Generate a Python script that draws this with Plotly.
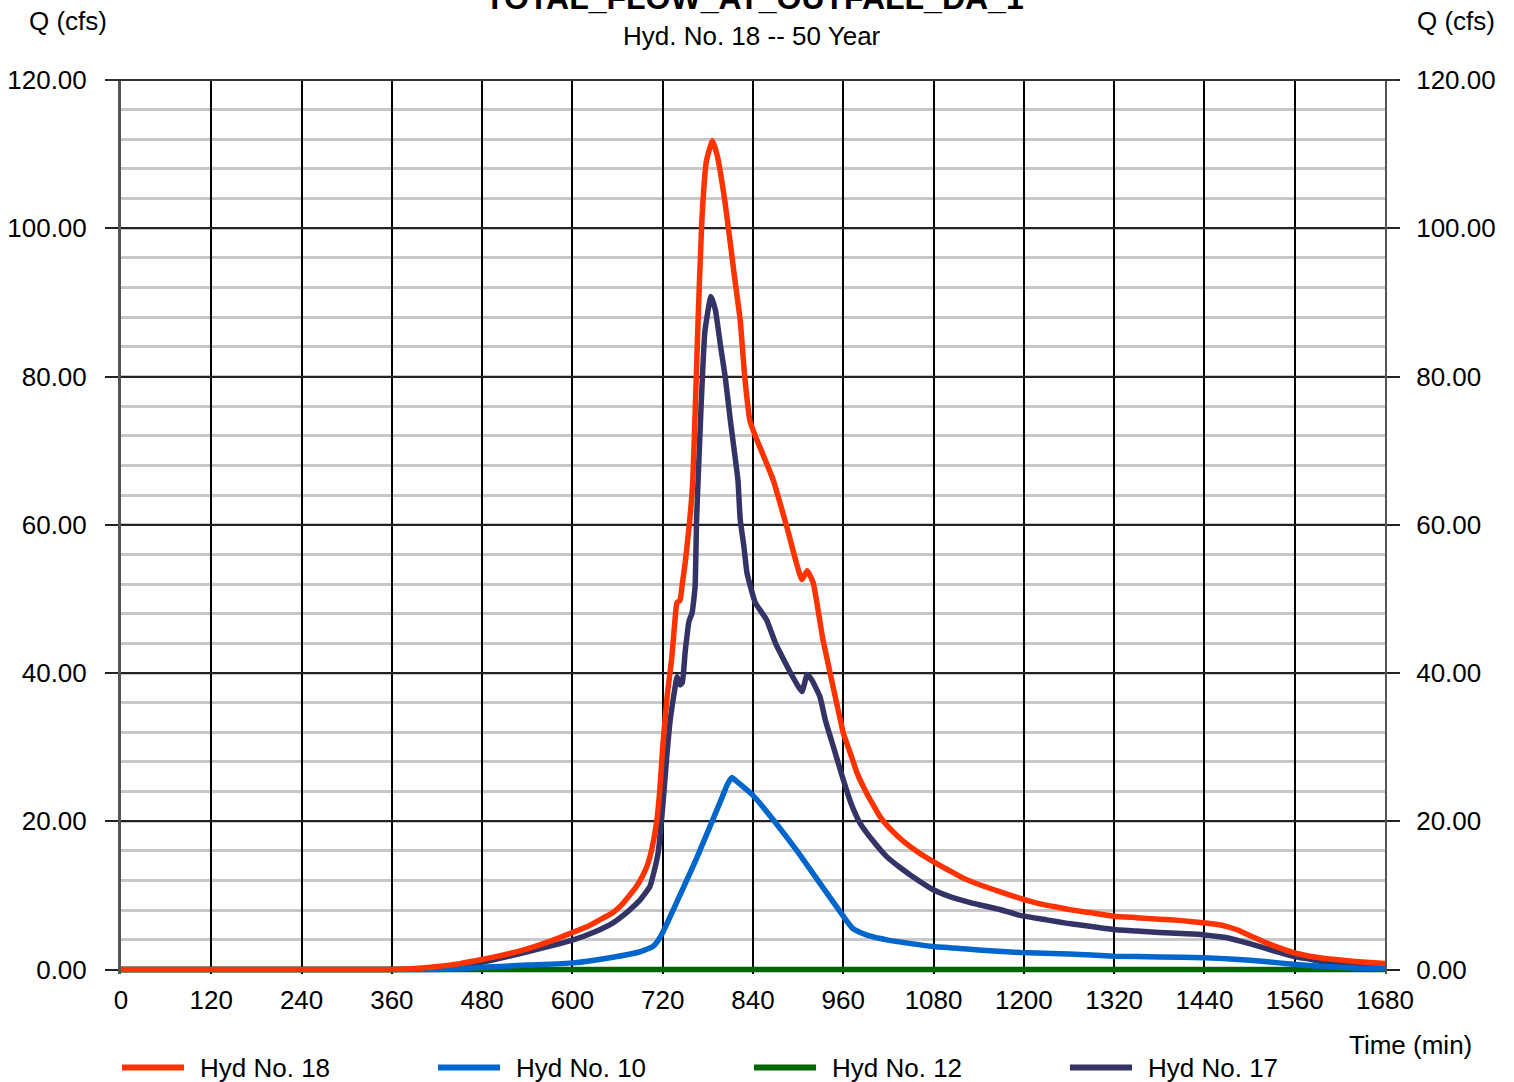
import plotly.graph_objects as go

# Hydrograph ordinates (time in minutes, flow in cfs)
t18 = [0, 360, 400, 420, 450, 480, 510, 540, 570, 600, 620, 640, 654, 665, 675, 685, 694, 700, 706, 712,
       716, 720, 726, 732, 737, 739, 743, 746, 750, 756, 760, 764, 767, 772, 778, 786, 792, 803, 816, 823,
       829, 836, 840, 845, 867, 885, 905, 912, 920, 933, 956, 960, 970, 978, 990, 1009, 1025, 1040, 1060,
       1079, 1100, 1120, 1145, 1168, 1195, 1220, 1240, 1260, 1279, 1300, 1319, 1350, 1380, 1410, 1438,
       1455, 1470, 1485, 1500, 1530, 1558, 1580, 1600, 1640, 1680]
q18 = [0, 0, 0.2, 0.4, 0.8, 1.35, 2.0, 2.8, 3.8, 5.0, 5.8, 6.9, 7.7, 8.7, 9.9, 11.2, 12.8, 14.2, 16.5, 20.0,
       24.0, 30.0, 37.0, 42.0, 48.0, 49.5, 49.8, 52.0, 55.0, 60.7, 66.0, 78.0, 87.6, 101.0, 109.0, 111.8,
       110.0, 103.4, 93.0, 87.6, 80.0, 74.0, 72.8, 71.5, 66.0, 59.7, 52.6, 53.8, 52.2, 44.5, 33.7, 31.9,
       29.0, 26.6, 24.0, 20.6, 18.7, 17.3, 15.8, 14.6, 13.4, 12.3, 11.3, 10.5, 9.6, 8.9, 8.5, 8.1, 7.8,
       7.5, 7.2, 7.0, 6.8, 6.6, 6.3, 6.1, 5.8, 5.3, 4.6, 3.3, 2.3, 1.8, 1.5, 1.1, 0.8]

t10 = [0, 420, 450, 480, 540, 601, 650, 690, 707, 713, 720, 765, 800, 806, 812, 818, 840, 870, 900,
       930, 960, 972, 985, 1000, 1018, 1050, 1079, 1120, 1160, 1195, 1260, 1320, 1380, 1440, 1480, 1520,
       1558, 1600, 1640, 1680]
q10 = [0, 0, 0.1, 0.3, 0.6, 0.9, 1.6, 2.4, 3.1, 3.8, 5.0, 15.0, 23.5, 25.0, 25.9, 25.4, 23.5, 19.8, 15.8,
       11.5, 7.2, 5.6, 4.9, 4.4, 4.0, 3.5, 3.1, 2.8, 2.5, 2.3, 2.1, 1.8, 1.7, 1.6, 1.4, 1.1,
       0.7, 0.4, 0.2, 0.1]

t12 = [0, 1680]
q12 = [0, 0]

t17 = [0, 360, 420, 480, 540, 601, 630, 654, 670, 680, 690, 703, 708, 714, 720, 725, 730, 736, 739, 743,
       746, 750, 755, 759, 763, 765, 767, 771, 776, 784, 790, 797, 803, 810, 820, 823, 828, 832, 843, 858,
       870, 890, 905, 912, 918, 929, 936, 947, 960, 970, 982, 1000, 1018, 1035, 1050, 1079, 1100, 1130,
       1168, 1195, 1230, 1260, 1290, 1319, 1350, 1380, 1410, 1438, 1455, 1470, 1485, 1500, 1530, 1558,
       1580, 1600, 1640, 1680]
q17 = [0, 0, 0.2, 1.0, 2.4, 4.0, 5.1, 6.3, 7.5, 8.4, 9.4, 11.2, 13.0, 15.8, 22.0, 28.3, 33.7, 37.8, 39.5,
       38.4, 38.7, 43.0, 47.0, 48.1, 51.6, 60.7, 66.0, 76.0, 86.0, 90.8, 89.0, 84.0, 80.0, 74.0, 66.0,
       60.7, 57.0, 53.5, 49.5, 47.2, 44.0, 40.0, 37.5, 39.8, 39.1, 36.8, 33.7, 30.0, 25.6, 22.5, 19.8,
       17.3, 15.2, 13.8, 12.7, 10.8, 9.9, 9.0, 8.1, 7.3, 6.7, 6.2, 5.8, 5.4, 5.2, 5.0, 4.85, 4.7, 4.5,
       4.3, 3.9, 3.5, 2.6, 1.8, 1.4, 1.0, 0.6, 0.3]

x_ticks = list(range(0, 1681, 120))
y_ticks = list(range(0, 121, 20))

series = [
    ("Hyd No. 18", t18, q18, "#ff3300"),
    ("Hyd No. 10", t10, q10, "#0066cc"),
    ("Hyd No. 12", t12, q12, "#006600"),
    ("Hyd No. 17", t17, q17, "#333366"),
]

FONT = "Liberation Sans, Arial, sans-serif"
FS = 26
fig = go.Figure()

# draw order: 17, 12, 10, 18 (red on top)
for name, t, q, col in [series[3], series[2], series[1], series[0]]:
    fig.add_trace(go.Scatter(x=t, y=q, mode="lines", name=name, showlegend=False,
                             line=dict(color=col, width=5.5, shape="spline", smoothing=0.4)))

# placeholder on the secondary axis so the right-hand scale is drawn
fig.add_trace(go.Scatter(x=[None], y=[None], yaxis="y2", showlegend=False, hoverinfo="skip"))

# the value axis starts a little below zero so the zero-flow line is not clipped
Y0 = -0.6
L, R, T = 121, 1385, 80
ZERO_PX = 970
PX_PER_CFS = (ZERO_PX - T) / 120.0
B = ZERO_PX - Y0 * PX_PER_CFS
W, H = 1514, 1082

axis_common = dict(range=[Y0, 120], tickvals=y_ticks, tickformat=".2f", zeroline=False,
                   ticks="outside", ticklen=13, tickcolor="#222222", tickwidth=1.5,
                   tickfont=dict(size=FS), automargin=False)

fig.update_layout(
    width=W, height=H,
    margin=dict(l=L, r=W - R, t=T, b=H - B, autoexpand=False),
    paper_bgcolor="white", plot_bgcolor="white",
    font=dict(family=FONT, size=FS, color="black"),
    showlegend=False,
    xaxis=dict(range=[0, 1680], tickvals=x_ticks, ticktext=[str(v) for v in x_ticks],
               showgrid=True, gridcolor="black", gridwidth=1.5, zeroline=False, automargin=False,
               showline=False, ticks="", ticklabelstandoff=8, tickfont=dict(size=FS)),
    yaxis=dict(**axis_common, showgrid=True, gridcolor="#222222", gridwidth=1.5,
               showline=True, linecolor="#555555", linewidth=3, ticklabelstandoff=13,
               minor=dict(dtick=4, tick0=0, showgrid=True, gridcolor="#c8c8c8", gridwidth=3, ticks="")),
    yaxis2=dict(**axis_common, overlaying="y", side="right", showgrid=False,
                showline=True, linecolor="#555555", linewidth=2, ticklabelstandoff=11),
)

# top frame line
fig.add_shape(type="line", xref="paper", yref="paper", x0=-13 / (R - L), x1=1 + 13 / (R - L),
              y0=1, y1=1, line=dict(color="#333333", width=2))


def px(xp):
    return (xp - L) / (R - L)


def py(yp):
    return (B - yp) / (B - T)


annotations = [
    dict(text="<b>TOTAL_FLOW_AT_OUTFALL_DA_1</b>", x=px(754), y=py(-2), font=dict(size=32)),
    dict(text="Hyd. No. 18 -- 50 Year", x=px(752), y=py(36), font=dict(size=FS)),
    dict(text="Q (cfs)", x=px(68), y=py(21), font=dict(size=FS)),
    dict(text="Q (cfs)", x=px(1456), y=py(21), font=dict(size=FS)),
    dict(text="Time (min)", x=px(1410), y=py(1045), font=dict(size=FS)),
]

# legend row
leg_x = [120, 436, 752, 1068]
for (name, _, _, col), lx in zip(series, leg_x):
    fig.add_shape(type="line", xref="paper", yref="paper", x0=px(lx + 2), x1=px(lx + 64),
                  y0=py(1068), y1=py(1068), line=dict(color=col, width=6))
    annotations.append(dict(text=name, x=px(lx + 78), y=py(1068), xanchor="left",
                            font=dict(size=FS)))

for a in annotations:
    a.setdefault("xanchor", "center")
    fig.add_annotation(xref="paper", yref="paper", showarrow=False, yanchor="middle",
                       font_family=FONT, font_color="black", **{k: v for k, v in a.items()})

fig.write_html("out.html")
